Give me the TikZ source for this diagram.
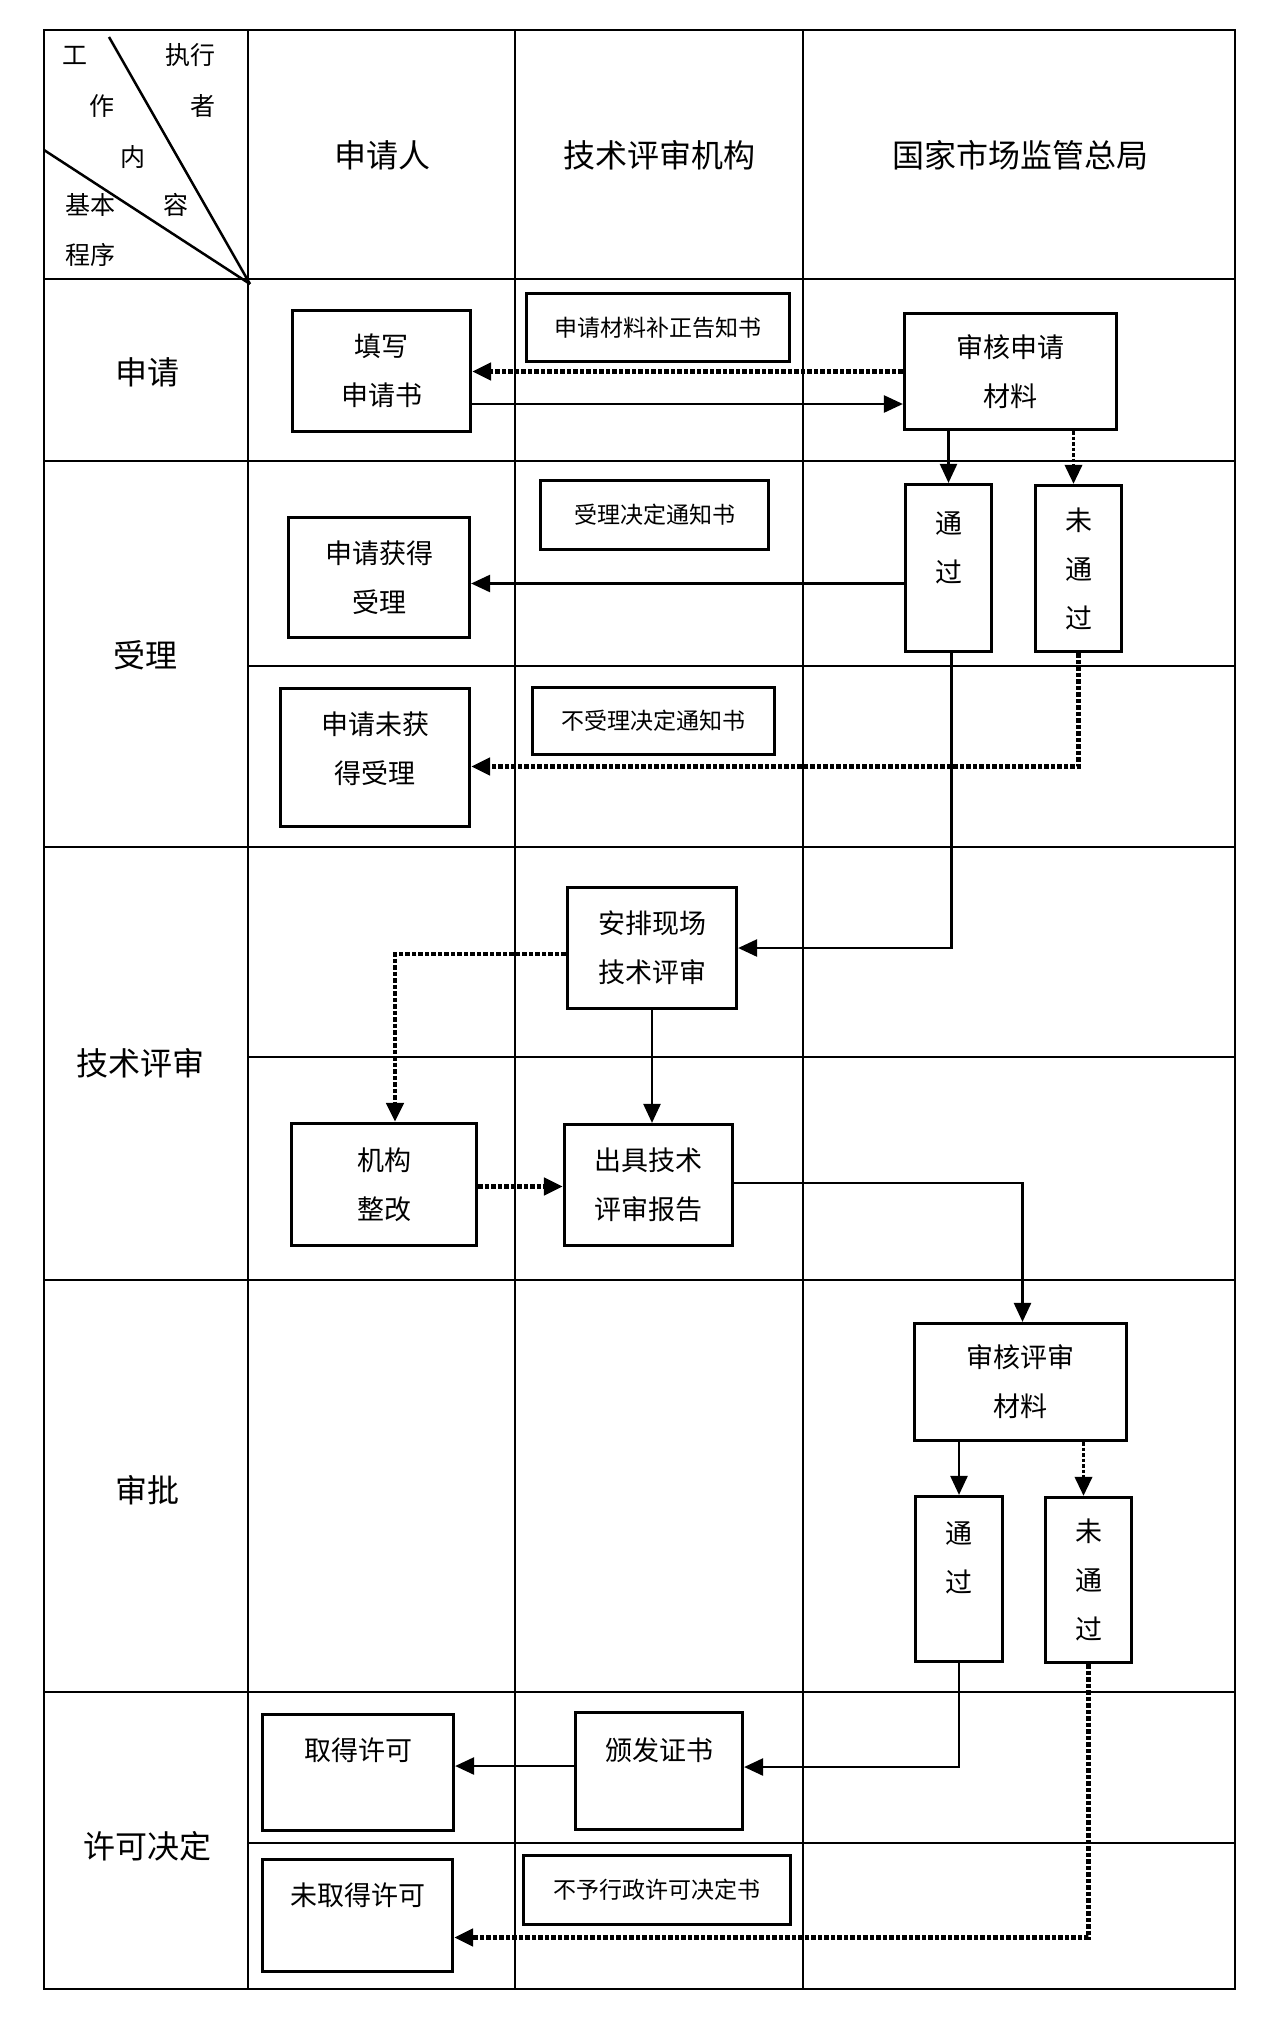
\documentclass[tikz,border=0pt]{standalone}
\usepackage{fontspec}
\setmainfont{Noto Sans CJK SC}
\usetikzlibrary{arrows.meta}
\begin{document}
\begin{tikzpicture}[x=1pt,y=-1pt,
  gridline/.style={line width=2.2pt},
  box/.style={draw, line width=3.2pt, rectangle, inner sep=0pt, align=center, font=\fontsize{27}{49}\selectfont},
  smallbox/.style={box, font=\fontsize{23}{28}\selectfont},
  txt/.style={inner sep=0pt, align=center, font=\fontsize{27}{49}\selectfont},
  head/.style={inner sep=0pt, font=\fontsize{32}{38}\selectfont},
  corner/.style={inner sep=0pt, font=\fontsize{25}{30}\selectfont},
  conn/.style={line width=2.5pt, -{Triangle[length=19pt,width=17pt]}},
  dotconn/.style={line width=4.5pt, dash pattern=on 4.5pt off 2pt, -{Triangle[length=19pt,width=17pt]}},
  thindot/.style={line width=3.5pt, dash pattern=on 3.5pt off 2pt, -{Triangle[length=19pt,width=17pt]}},
]
\useasboundingbox (0,0) rectangle (1280,2027);
\fill[white] (0,0) rectangle (1280,2027);

% grid
\draw[line width=2.8pt] (44,30) rectangle (1235,1989);
\foreach \x in {248,515,803} \draw[gridline] (\x,30) -- (\x,1989);
\foreach \y in {279,461,847,1280,1692} \draw[gridline] (44,\y) -- (1235,\y);
\foreach \y in {666,1057,1843} \draw[gridline] (248,\y) -- (1235,\y);
\draw[line width=2.5pt] (109,37) -- (250,284);
\draw[line width=2.5pt] (44,150) -- (250,284);

% corner header texts
\node[corner] (c1) at (75,55) {工};
\node[corner] (c2) at (190,55) {执行};
\node[corner] (c3) at (102,106) {作};
\node[corner] (c4) at (203,106) {者};
\node[corner] (c5) at (133,157) {内};
\node[corner] (c6) at (90,205) {基本};
\node[corner] (c7) at (176,205) {容};
\node[corner] (c8) at (90,255) {程序};

% column headers
\node[head] (hA) at (382,155) {申请人};
\node[head] (hB) at (659,155) {技术评审机构};
\node[head] (hC) at (1020,155) {国家市场监管总局};

% row labels
\node[head] (r1) at (147,372) {申请};
\node[head] (r2) at (145,655) {受理};
\node[head] (r3) at (140,1063) {技术评审};
\node[head] (r4) at (147,1490) {审批};
\node[head] (r5) at (147,1846) {许可决定};

% boxes
\node[box, minimum width=178, minimum height=121] (tianxie) at (381.5,371) {填写\\申请书};
\node[smallbox, minimum width=263, minimum height=68] (buzheng) at (658,327.5) {申请材料补正告知书};
\node[box, minimum width=212, minimum height=116] (shenhe1) at (1010.5,371.5) {审核申请\\材料};
\node[box, minimum width=181, minimum height=120] (huode) at (379,577.5) {申请获得\\受理};
\node[smallbox, minimum width=228, minimum height=69] (shouli) at (654.5,515) {受理决定通知书};
\node[box, minimum width=86, minimum height=167] (tongguo1) at (948.5,568) {};
\node[txt] (tongguo1t) at (948.5,547.5) {通\\过};
\node[box, minimum width=86, minimum height=166] (weitong1) at (1078.5,568.5) {未\\通\\过};
\node[box, minimum width=189, minimum height=138] (weihuo) at (375,757.5) {};
\node[txt] (weihuot) at (375,749) {申请未获\\得受理};
\node[smallbox, minimum width=242, minimum height=67] (bushouli) at (653.5,721) {不受理决定通知书};
\node[box, minimum width=169, minimum height=121] (anpai) at (652,948) {安排现场\\技术评审};
\node[box, minimum width=185, minimum height=122] (jigou) at (384,1184.5) {机构\\整改};
\node[box, minimum width=168, minimum height=121] (chuju) at (648.5,1185) {出具技术\\评审报告};
\node[box, minimum width=212, minimum height=117] (shenhe2) at (1020.5,1382) {审核评审\\材料};
\node[box, minimum width=87, minimum height=165] (tongguo2) at (959,1579) {};
\node[txt] (tongguo2t) at (959,1558) {通\\过};
\node[box, minimum width=86, minimum height=165] (weitong2) at (1088.5,1580) {未\\通\\过};
\node[box, minimum width=191, minimum height=116] (qude) at (358,1772.5) {};
\node[txt] (qudet) at (358,1750) {取得许可};
\node[box, minimum width=167, minimum height=117] (banfa) at (659,1771) {};
\node[txt] (banfat) at (659,1750) {颁发证书};
\node[box, minimum width=190, minimum height=112] (weiqu) at (357.5,1915.5) {};
\node[txt] (weiqut) at (357.5,1895) {未取得许可};
\node[smallbox, minimum width=267, minimum height=69] (buyu) at (657,1890) {不予行政许可决定书};

% connectors
\coordinate (a1) at ([yshift=-33pt]tianxie.east);
\draw[conn] (a1) -- (a1 -| shenhe1.west);
\draw[dotconn] (shenhe1.west) -- (shenhe1.west -| tianxie.east);
\draw[conn] (tongguo1.north |- shenhe1.south) -- (tongguo1.north);
\draw[thindot] ([xshift=-5pt]weitong1.north |- shenhe1.south) -- ([xshift=-5pt]weitong1.north);
\coordinate (a5) at ([yshift=-6pt]huode.east);
\draw[conn] (tongguo1.west |- a5) -- (a5);
\coordinate (a6) at ([yshift=-9pt]weihuo.east);
\draw[dotconn] (weitong1.south) |- (a6);
\draw[conn] ([xshift=3pt]tongguo1.south) |- (anpai.east);
\coordinate (a8) at ([yshift=-6pt]anpai.west);
\draw[dotconn] (a8) -| ([xshift=11pt]jigou.north);
\draw[conn] (anpai.south) -- (anpai.south |- chuju.north);
\coordinate (a10) at ([yshift=-2pt]jigou.east);
\draw[dotconn] (a10) -- (a10 -| chuju.west);
\draw[conn] ([yshift=2pt]chuju.east) -| ([xshift=2pt]shenhe2.north);
\draw[conn] (tongguo2.north |- shenhe2.south) -- (tongguo2.north);
\draw[thindot] ([xshift=-5pt]weitong2.north |- shenhe2.south) -- ([xshift=-5pt]weitong2.north);
\draw[conn] (tongguo2.south) |- ([yshift=4pt]banfa.east);
\coordinate (a15) at ([yshift=5pt]banfa.west);
\draw[conn] (a15) -- (a15 -| qude.east);
\coordinate (a16) at ([yshift=-22pt]weiqu.east);
\draw[dotconn] (weitong2.south) |- (a16);
\end{tikzpicture}
\end{document}
